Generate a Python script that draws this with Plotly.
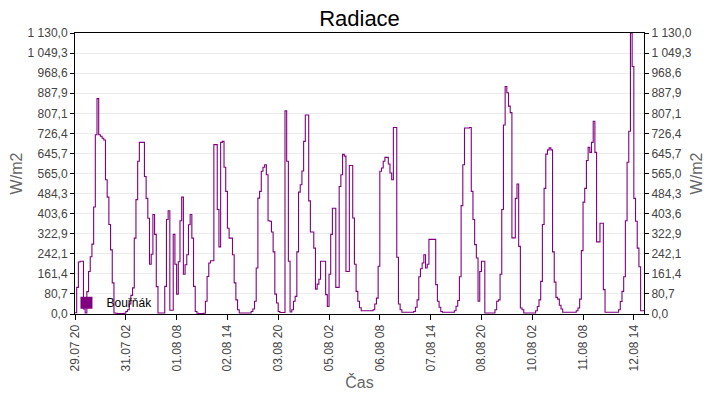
import pandas as pd
import plotly.graph_objects as go

# hodinove hodnoty radiace [W/m2], od 29.07 20:00
radiace = [
    5, 107, 209, 212, 212, 20, 4, 90, 171, 230,
    281, 430, 721, 866, 721, 715, 707, 700, 540, 470,
    360, 258, 125, 4, 3, 2, 2, 2, 2, 3,
    10, 17, 40, 75, 105, 305, 460, 614, 690, 690,
    690, 553, 465, 385, 200, 240, 400, 320, 110, 4,
    4, 4, 4, 111, 380, 415, 15, 15, 320, 200,
    80, 210, 375, 470, 160, 198, 238, 359, 400, 305,
    111, 10, 3, 2, 2, 2, 3, 51, 151, 205,
    214, 214, 681, 681, 420, 270, 690, 694, 590, 493,
    345, 305, 305, 238, 125, 57, 17, 4, 4, 4,
    4, 4, 4, 4, 10, 20, 51, 185, 466, 493,
    574, 590, 600, 560, 375, 373, 330, 250, 80, 44,
    10, 6, 6, 6, 817, 614, 212, 8, 17, 51,
    71, 250, 490, 520, 575, 694, 800, 800, 455, 330,
    330, 265, 100, 120, 140, 212, 212, 212, 78, 30,
    160, 320, 425, 425, 107, 107, 513, 560, 642, 635,
    171, 171, 597, 597, 386, 200, 91, 51, 25, 13,
    13, 13, 13, 13, 13, 13, 17, 40, 64, 192,
    574, 587, 614, 630, 630, 603, 567, 540, 750, 750,
    228, 40, 17, 7, 7, 7, 7, 7, 7, 7,
    10, 27, 57, 150, 182, 205, 238, 185, 200, 300,
    300, 300, 300, 118, 51, 27, 10, 7, 7, 7,
    7, 7, 7, 7, 13, 31, 54, 150, 436, 600,
    748, 748, 748, 750, 493, 380, 279, 225, 51, 171,
    212, 212, 4, 4, 4, 4, 4, 4, 17, 51,
    57, 160, 420, 760, 915, 890, 836, 810, 306, 306,
    465, 523, 272, 24, 17, 4, 4, 4, 4, 4,
    4, 4, 13, 30, 57, 131, 360, 505, 643, 660,
    668, 660, 250, 128, 67, 60, 35, 20, 7, 7,
    7, 7, 7, 7, 7, 7, 13, 24, 60, 255,
    450, 505, 617, 670, 650, 690, 775, 650, 290, 290,
    365, 365, 98, 7, 7, 7, 7, 7, 7, 7,
    7, 17, 50, 91, 150, 375, 610, 735, 1130, 995,
    465, 373, 265, 190, 13, 13, 13,
]
cas = pd.date_range("2020-07-29 20:00", periods=len(radiace), freq="h")

y_ticks = [0.0, 80.7, 161.4, 242.1, 322.9, 403.6, 484.3, 565.0,
           645.7, 726.4, 807.1, 887.9, 968.6, 1049.3, 1130.0]
y_labels = ["0,0", "80,7", "161,4", "242,1", "322,9", "403,6", "484,3", "565,0",
            "645,7", "726,4", "807,1", "887,9", "968,6", "1 049,3", "1 130,0"]

barva = "#800080"
font_name = "Liberation Sans, Arial, sans-serif"

fig = go.Figure()
fig.add_trace(go.Scatter(x=cas, y=radiace, mode="lines", line_shape="hv",
                         line=dict(color=barva, width=1.1), showlegend=False))
# jen pro legendu (ctverecek)
fig.add_trace(go.Scatter(x=[None], y=[None], mode="markers", name="Bouřňák",
                         marker=dict(symbol="square", size=11, color=barva)))
# prava osa
fig.add_trace(go.Scatter(x=[cas[0]], y=[None], yaxis="y2", showlegend=False,
                         hoverinfo="skip"))

osa_y = dict(range=[0, 1130], tickvals=y_ticks, ticktext=y_labels,
             ticks="outside", ticklen=4, tickcolor="black",
             showline=True, linecolor="black", linewidth=1,
             gridcolor="#ebebeb", zeroline=False, automargin=False,
             tickfont=dict(size=12, color="#444"),
             title=dict(text="W/m2", font=dict(size=16, color="#666"), standoff=0))

fig.update_layout(
    width=720, height=400,
    margin=dict(l=75, r=76, t=33, b=86),
    paper_bgcolor="white", plot_bgcolor="white",
    font=dict(family=font_name),
    title=dict(text="Radiace", x=0.5, xref="paper", y=0.955, yref="container",
               yanchor="middle", automargin=False,
               font=dict(size=22, color="black")),
    xaxis=dict(range=[cas[0], cas[-1]], tick0="2020-07-29 20:00", dtick=30 * 3600 * 1000,
               tickformat="%d.%m %H", tickangle=-90, ticks="outside", ticklen=5,
               tickcolor="black", showline=True, linecolor="black", linewidth=1,
               mirror=True, showgrid=False, automargin=False,
               tickfont=dict(size=12, color="#444"),
               title=dict(text="Čas", font=dict(size=16, color="#666"), standoff=6)),
    yaxis=dict(mirror=True, **osa_y),
    yaxis2=dict(overlaying="y", side="right", **osa_y),
    legend=dict(x=-0.015, y=0.04, xanchor="left", yanchor="middle",
                bgcolor="rgba(0,0,0,0)", font=dict(size=12, color="black"),
                itemsizing="constant"),
)

fig.write_html("out.html", config={"displayModeBar": False},
               post_script="document.body.style.margin = '0';")
